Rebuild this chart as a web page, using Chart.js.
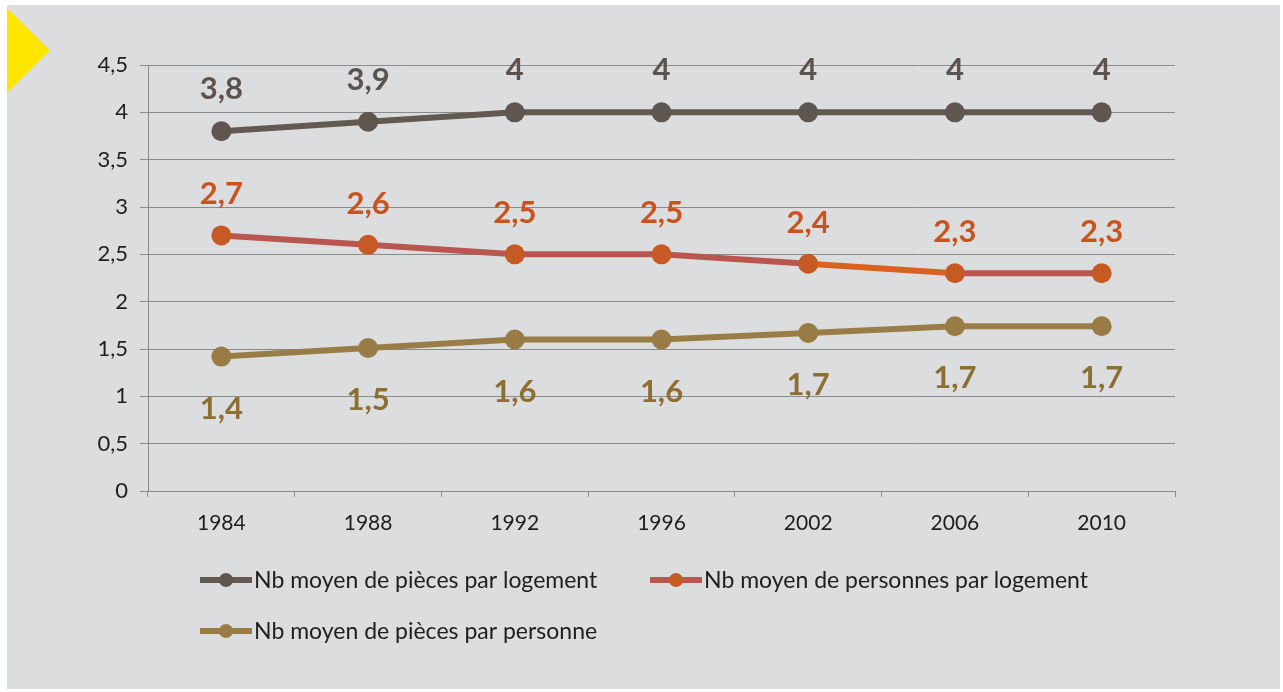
<!DOCTYPE html>
<html>
<head>
<meta charset="utf-8">
<script src="https://cdn.jsdelivr.net/npm/chart.js@4.4.1/dist/chart.umd.min.js"></script>
<style>
  html, body { margin: 0; padding: 0; background: #ffffff; }
  #panel {
    position: absolute; left: 7px; top: 5px;
    width: 1273px; height: 684px;
    background: #dcdddf;
  }
  #flag {
    position: absolute; left: 0; top: 3px;
    width: 43px; height: 85px;
    background: #ffe600;
    clip-path: polygon(0 0, 100% 50%, 0 100%);
  }
  #chart { position: absolute; left: 0; top: 0; }
</style>
</head>
<body>
<div id="panel">
  <canvas id="chart" width="1273" height="684"></canvas>
  <div id="flag"></div>
</div>
<script>
(function() {
    'use strict';

    var years = ['1984', '1988', '1992', '1996', '2002', '2006', '2010'];
    var piecesParLogement = [3.8, 3.9, 4, 4, 4, 4, 4];
    var personnesParLogement = [2.7, 2.6, 2.5, 2.5, 2.4, 2.3, 2.3];
    var piecesParPersonne = [1.42, 1.51, 1.6, 1.6, 1.67, 1.74, 1.74];
    var seriesNames = [
        'Nb moyen de pièces par logement',
        'Nb moyen de personnes par logement',
        'Nb moyen de pièces par personne'
    ];

    var font = 'Lato, "Open Sans", sans-serif';

    //french number format: 2.5 -> "2,5", 4 -> "4"
    function fr(v) {
        return (Math.round(v * 10) / 10).toFixed(1).replace('.', ',').replace(',0', '');
    }

    //draws the value above / below each point
    var valueLabels = {
        id: 'valueLabels',
        afterDatasetsDraw: function(chart) {
            var ctx = chart.ctx;
            ctx.save();
            ctx.font = 'bold 31px ' + font;
            ctx.textAlign = 'center';
            ctx.textBaseline = 'middle';
            chart.data.datasets.forEach(function(ds, i) {
                var meta = chart.getDatasetMeta(i);
                ctx.fillStyle = ds.labelColor;
                meta.data.forEach(function(pt, j) {
                    ctx.fillText(fr(ds.data[j]), pt.x, pt.y + ds.labelOffset);
                });
            });
            ctx.restore();
        }
    };

    //legend with line + dot marker, laid out like the original
    var lineLegend = {
        id: 'lineLegend',
        afterDraw: function(chart) {
            var ctx = chart.ctx;
            var spots = [[193, 575], [643, 575], [193, 626]];
            ctx.save();
            chart.data.datasets.forEach(function(ds, i) {
                var x = spots[i][0], y = spots[i][1];
                ctx.strokeStyle = ds.borderColor;
                ctx.lineWidth = 6;
                ctx.beginPath();
                ctx.moveTo(x, y);
                ctx.lineTo(x + 52, y);
                ctx.stroke();
                ctx.fillStyle = ds.pointBackgroundColor;
                ctx.beginPath();
                ctx.arc(x + 26, y, 7, 0, Math.PI * 2);
                ctx.fill();
                ctx.fillStyle = '#1e1e1e';
                ctx.font = '23px ' + font;
                ctx.textAlign = 'left';
                ctx.textBaseline = 'middle';
                ctx.fillText(ds.label, x + 54, y + 1);
            });
            ctx.restore();
        }
    };

    var ctx = document.getElementById('chart').getContext('2d');
    new Chart(ctx, {
        type: 'line',
        data: {
            labels: years,
            datasets: [{
                label: seriesNames[0],
                data: piecesParLogement,
                borderColor: '#625951',
                pointBackgroundColor: '#5f5650',
                labelColor: '#5b534c',
                labelOffset: -42
            }, {
                label: seriesNames[1],
                data: personnesParLogement,
                borderColor: '#b9564f',
                pointBackgroundColor: '#c65a24',
                labelColor: '#c9521d',
                labelOffset: -41,
                segment: {
                    borderColor: function(c) {
                        return c.p0DataIndex === 4 ? '#d8631f' : '#b9564f';
                    }
                }
            }, {
                label: seriesNames[2],
                data: piecesParPersonne,
                borderColor: '#9a7d46',
                pointBackgroundColor: '#997c45',
                labelColor: '#8e6f33',
                labelOffset: 52
            }]
        },
        options: {
            responsive: false,
            animation: false,
            layout: { padding: { left: 0, right: 105, top: 60, bottom: 148 } },
            elements: {
                line: { borderWidth: 6, tension: 0 },
                point: { radius: 10, borderWidth: 0, hoverRadius: 10 }
            },
            plugins: {
                legend: { display: false },
                tooltip: { enabled: false }
            },
            scales: {
                x: {
                    offset: true,
                    grid: {
                        offset: true,
                        drawOnChartArea: false,
                        color: '#8a8a8a',
                        tickLength: 6
                    },
                    border: { color: '#8a8a8a', width: 1 },
                    ticks: { color: '#1e1e1e', font: { family: font, size: 21 }, padding: 14, maxRotation: 0 },
                    afterFit: function(s) { s.height = 50; }
                },
                y: {
                    min: 0,
                    max: 4.5,
                    grid: { color: '#8a8a8a', tickLength: 8 },
                    border: { color: '#8a8a8a', width: 1 },
                    ticks: {
                        stepSize: 0.5,
                        color: '#1e1e1e',
                        font: { family: font, size: 22 },
                        padding: 12,
                        callback: function(v) { return fr(v); }
                    },
                    afterFit: function(s) { s.width = 141; }
                }
            }
        },
        plugins: [valueLabels, lineLegend]
    });
})();
</script>
</body>
</html>
